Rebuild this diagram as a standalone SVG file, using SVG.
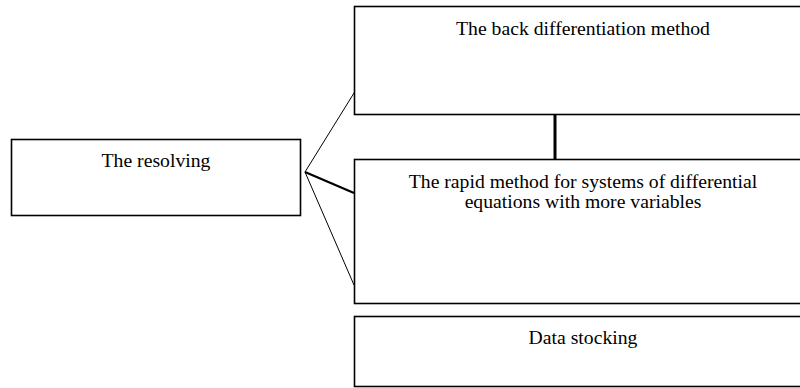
<svg xmlns="http://www.w3.org/2000/svg" width="800" height="388" viewBox="0 0 800 388">
  <style>
    .box { fill: #ffffff; stroke: #000000; stroke-width: 1.6; }
    .label { font-family: "Liberation Serif", "Times New Roman", serif; font-size: 19.7px; fill: #000000; text-anchor: middle; }
    .link { stroke: #000000; fill: none; }
  </style>
  <rect width="800" height="388" fill="#ffffff"/>
  <g id="connectors">
    <line class="link" x1="305" y1="172" x2="354" y2="93" stroke-width="1"/>
    <line class="link" x1="305" y1="172" x2="354" y2="193" stroke-width="2.2"/>
    <line class="link" x1="305" y1="172" x2="354" y2="285" stroke-width="1"/>
    <line class="link" x1="555" y1="114" x2="555" y2="159" stroke-width="3"/>
  </g>
  <g id="node-resolving">
    <rect class="box" x="11.5" y="139.5" width="289" height="76"/>
    <text class="label" x="156" y="167">The resolving</text>
  </g>
  <g id="node-back-differentiation">
    <rect class="box" x="354.5" y="6.5" width="447" height="108"/>
    <text class="label" x="583" y="35">The back differentiation method</text>
  </g>
  <g id="node-rapid-method">
    <rect class="box" x="354.5" y="159.5" width="447" height="144"/>
    <text class="label" x="583" y="188">The rapid method for systems of differential</text>
    <text class="label" x="583" y="208">equations with more variables</text>
  </g>
  <g id="node-data-stocking">
    <rect class="box" x="354.5" y="316.5" width="447" height="70"/>
    <text class="label" x="583" y="344">Data stocking</text>
  </g>
</svg>
